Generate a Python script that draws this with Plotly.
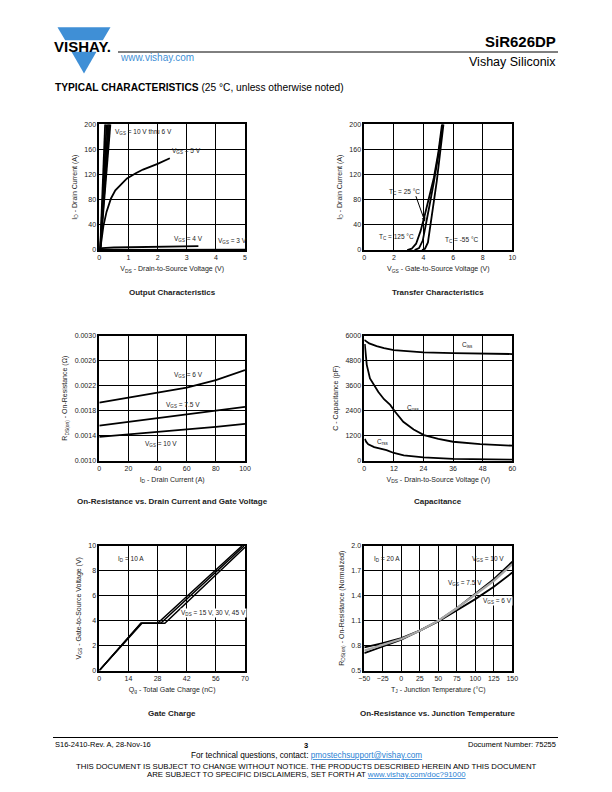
import plotly.graph_objects as go

# The page body adds an 8 px margin; lay the figure out in page pixels and compensate.
OFF = 8
W, H = 612 - 2 * OFF, 792 - 2 * OFF
def px(x): return (x - OFF) / W
def py(y): return 1 - (y - OFF) / H

FONT = "Liberation Sans, Arial, sans-serif"
TXT = "#222222"
BLUE = "#3f8fd6"

# ---------------- Data ----------------
# 1. Output characteristics
out_hi_start = [0.03, 0.03, 0.03, 0.03, 0.03]
out_hi_end = [0.20, 0.25, 0.30, 0.34, 0.38]
out_hi_id = [0, 200]
out_5v_vds = [0.03, 0.14, 0.25, 0.40, 0.55, 0.75, 0.95, 1.25, 1.50, 2.00, 2.42]
out_5v_id = [0, 38, 61, 82, 95, 105, 114, 122, 128, 137, 146]
out_4v_vds = [0.02, 0.10, 0.50, 1.00, 2.00, 3.40]
out_4v_id = [0, 3, 4, 4.5, 5.5, 6.2]
out_3v_vds = [0.02, 5.0]
out_3v_id = [0.3, 0.4]

# 2. Transfer characteristics
tr_125_vgs = [2.9, 3.2, 3.5, 3.8, 4.1, 4.4, 4.7, 5.0, 5.25]
tr_125_id = [0, 2, 10, 30, 57, 85, 115, 155, 200]
tr_25_vgs = [3.4, 3.7, 3.95, 4.15, 4.4, 4.7, 5.0, 5.3]
tr_25_id = [0, 3, 15, 38, 70, 108, 150, 200]
tr_m55_vgs = [3.9, 4.1, 4.3, 4.45, 4.65, 4.9, 5.1, 5.35]
tr_m55_id = [0, 2, 12, 35, 70, 110, 150, 200]

# 3. On-resistance vs drain current
ron_id = [0, 20, 40, 60, 80, 100]
ron_6v = [0.00193, 0.00201, 0.00208, 0.00217, 0.00229, 0.00245]
ron_75v = [0.00156, 0.00162, 0.00168, 0.00174, 0.00181, 0.00186]
ron_10v = [0.00138, 0.00142, 0.00145, 0.00149, 0.00154, 0.00159]

# 4. Capacitance
ciss_v = [0, 1, 2, 5, 8, 12, 18, 24, 36, 48, 60]
ciss_c = [5800, 5700, 5630, 5500, 5400, 5310, 5250, 5200, 5160, 5140, 5120]
coss_v = [0.2, 0.5, 1, 2.3, 5.7, 8, 10.5, 12.5, 15.8, 20, 24.2, 30, 36, 47, 60]
coss_c = [5600, 5000, 4600, 3950, 3300, 2950, 2680, 2350, 1870, 1500, 1230, 1050, 910, 800, 720]
crss_v = [0.2, 0.8, 1.6, 4, 9, 12, 16, 24, 36, 48, 60]
crss_c = [1050, 900, 790, 650, 510, 370, 260, 160, 85, 60, 50]

# 5. Gate charge
qg_15 = [0, 20, 28, 68.5]
vgs_15 = [0, 3.8, 3.8, 10]
qg_30 = [0, 20, 29.5, 69.5]
vgs_30 = [0, 3.8, 3.8, 10]
qg_45 = [0, 20.5, 31.5, 70]
vgs_45 = [0, 3.8, 3.8, 9.9]

# 6. On-resistance vs junction temperature
tj = [-50, -25, 0, 25, 50, 75, 100, 125, 150]
rn_6v = [0.78, 0.83, 0.89, 0.98, 1.09, 1.22, 1.36, 1.51, 1.68]
rn_75v = [0.74, 0.81, 0.88, 0.98, 1.10, 1.25, 1.41, 1.58, 1.78]
rn_10v = [0.71, 0.79, 0.87, 0.98, 1.10, 1.25, 1.42, 1.60, 1.81]

# ---------------- Figure ----------------
fig = go.Figure()
LW = 1.8

def line(x, y, ax, color="black", width=LW):
    xa = "x" if ax == 1 else f"x{ax}"
    ya = "y" if ax == 1 else f"y{ax}"
    fig.add_trace(go.Scatter(x=x, y=y, mode="lines", xaxis=xa, yaxis=ya,
                             line=dict(color=color, width=width), showlegend=False,
                             hoverinfo="skip"))

for s, e in zip(out_hi_start, out_hi_end):
    line([s, e], out_hi_id, 1)
line(out_5v_vds, out_5v_id, 1)
line(out_4v_vds, out_4v_id, 1)
line(out_3v_vds, out_3v_id, 1)

line(tr_125_vgs, tr_125_id, 2)
line(tr_25_vgs, tr_25_id, 2)
line(tr_m55_vgs, tr_m55_id, 2)

line(ron_id, ron_6v, 3)
line(ron_id, ron_75v, 3)
line(ron_id, ron_10v, 3)

line(ciss_v, ciss_c, 4)
line(coss_v, coss_c, 4)
line(crss_v, crss_c, 4)

line(qg_15, vgs_15, 5, width=1.5)
line(qg_30, vgs_30, 5, width=1.5)
line(qg_45, vgs_45, 5, width=1.5)

line(tj, rn_10v, 6)
line(tj, rn_6v, 6)
line(tj, rn_75v, 6, color="#a8a8a8", width=2.2)

LX = [px(99.3), px(245)]
RX = [px(364.3), px(512.3)]
ROWS = [[py(250), py(124.3)], [py(460.7), py(335.7)], [py(670.5), py(546)]]

axis_common = dict(showgrid=True, gridcolor="black", gridwidth=1.2,
                   showline=True, linecolor="black", linewidth=1.7, mirror=True,
                   ticks="", zeroline=False, automargin=False,
                   tickfont=dict(family=FONT, size=7, color=TXT),
                   title_font=dict(family=FONT, size=7, color=TXT))

specs = [
    (1, LX, ROWS[0], [0, 5], 1, None, [0, 200], 40, None,
     "V<sub>DS</sub> - Drain-to-Source Voltage (V)", "I<sub>D</sub> - Drain Current (A)"),
    (2, RX, ROWS[0], [0, 10], 2, None, [0, 200], 40, None,
     "V<sub>GS</sub> - Gate-to-Source Voltage (V)", "I<sub>D</sub> - Drain Current (A)"),
    (3, LX, ROWS[1], [0, 100], 20, None, [0.001, 0.003], 0.0004, ".4f",
     "I<sub>D</sub> - Drain Current (A)", "R<sub>DS(on)</sub> - On-Resistance (Ω)"),
    (4, RX, ROWS[1], [0, 60], 12, None, [0, 6000], 1200, None,
     "V<sub>DS</sub> - Drain-to-Source Voltage (V)", "C - Capacitance (pF)"),
    (5, LX, ROWS[2], [0, 70], 14, None, [0, 10], 2, None,
     "Q<sub>g</sub> - Total Gate Charge (nC)", "V<sub>GS</sub> - Gate-to-Source Voltage (V)"),
    (6, RX, ROWS[2], [-50, 150], 25, None, [0.5, 2.0], 0.3, ".1f",
     "T<sub>J</sub> - Junction Temperature (°C)", "R<sub>DS(on)</sub> - On-Resistance (Normalized)"),
]

layout_axes = {}
for (n, xd, yd, xr, xdt, xfmt, yr, ydt, yfmt, xt, yt) in specs:
    xk = "xaxis" if n == 1 else f"xaxis{n}"
    yk = "yaxis" if n == 1 else f"yaxis{n}"
    xa = dict(axis_common, domain=xd, range=xr, dtick=xdt, tick0=xr[0],
              anchor="y" if n == 1 else f"y{n}",
              title=dict(text=xt, standoff=6))
    ya = dict(axis_common, domain=yd, range=yr, dtick=ydt, tick0=yr[0],
              anchor="x" if n == 1 else f"x{n}",
              title=dict(text=yt, standoff=6))
    if yfmt:
        ya["tickformat"] = yfmt
    layout_axes[xk] = xa
    layout_axes[yk] = ya

fig.update_layout(**layout_axes)

ann = []
def note(text, x, y, ax, xanchor="left", size=6.5, bg=None):
    a = dict(text=text, x=x, y=y, xref="x" if ax == 1 else f"x{ax}",
             yref="y" if ax == 1 else f"y{ax}", showarrow=False,
             xanchor=xanchor, yanchor="middle",
             font=dict(family=FONT, size=size, color=TXT))
    if bg:
        a["bgcolor"] = bg
        a["borderpad"] = 0
    ann.append(a)

note("V<sub>GS</sub> = 10 V thru 6 V", 0.48, 188, 1)
note("V<sub>GS</sub> = 5 V", 2.42, 157, 1)
note("V<sub>GS</sub> = 4 V", 2.48, 17, 1)
note("V<sub>GS</sub> = 3 V", 4.0, 14, 1)

note("T<sub>C</sub> = 25 °C", 1.5, 93, 2)
note("T<sub>C</sub> = 125 °C", 0.84, 21, 2)
note("T<sub>C</sub> = -55 °C", 5.34, 16, 2)
ann.append(dict(x=4.1, y=45, ax=3.45, ay=88, xref="x2", yref="y2", axref="x2", ayref="y2",
                text="", showarrow=True, arrowhead=2, arrowsize=0.8, arrowwidth=1,
                arrowcolor="black"))

note("V<sub>GS</sub> = 6 V", 50, 0.00237, 3)
note("V<sub>GS</sub> = 7.5 V", 44.4, 0.00189, 3)
note("V<sub>GS</sub> = 10 V", 29.7, 0.00126, 3)

note("C<sub>iss</sub>", 38.8, 5555, 4)
note("C<sub>oss</sub>", 16.5, 2515, 4)
note("C<sub>rss</sub>", 4.3, 912, 4)

note("I<sub>D</sub> = 10 A", 8, 8.95, 5)
note("V<sub>DS</sub> = 15 V, 30 V, 45 V", 38.6, 4.6, 5, bg="white")

note("I<sub>D</sub> = 20 A", -40, 1.84, 6)
note("V<sub>GS</sub> = 10 V", 92.8, 1.84, 6)
note("V<sub>GS</sub> = 7.5 V", 61, 1.557, 6)
note("V<sub>GS</sub> = 6 V", 108.6, 1.336, 6, bg="white")

# chart titles
titles = [("Output Characteristics", LX, 292), ("Transfer Characteristics", RX, 292),
          ("On-Resistance vs. Drain Current and Gate Voltage", LX, 501), ("Capacitance", RX, 501),
          ("Gate Charge", LX, 713), ("On-Resistance vs. Junction Temperature", RX, 713)]
for t, dom, yy in titles:
    ann.append(dict(text=f"<b>{t}</b>", x=(dom[0] + dom[1]) / 2, y=py(yy), xref="paper", yref="paper",
                    showarrow=False, xanchor="center", yanchor="middle",
                    font=dict(family=FONT, size=8, color=TXT)))

def ptext(text, x, y, size, xanchor="left", color=TXT):
    ann.append(dict(text=text, x=px(x), y=py(y), xref="paper", yref="paper", showarrow=False,
                    xanchor=xanchor, yanchor="middle", font=dict(family=FONT, size=size, color=color)))

# header
ptext("<b>SiR626DP</b>", 558, 42, 15, "right", "black")
ptext("Vishay Siliconix", 558, 62, 12.5, "right", "black")
ptext("www.vishay.com", 118, 58, 10, "left", BLUE)
ptext("<b>TYPICAL CHARACTERISTICS</b> (25 °C, unless otherwise noted)", 53, 88, 10.2, "left", "black")
ptext("<b>VISHAY.</b>", 82.5, 46, 15, "center", "black")

# footer
ptext("S16-2410-Rev. A, 28-Nov-16", 53, 744, 7.5, "left", "black")
ptext("<b>3</b>", 306, 745, 7.5, "center", "black")
ptext("Document Number: 75255", 558, 744, 7.5, "right", "black")
ptext("For technical questions, contact: <span style='color:#2a7fd4'><u>pmostechsupport@vishay.com</u></span>",
      306, 755, 8.2, "center", "black")
ptext("THIS DOCUMENT IS SUBJECT TO CHANGE WITHOUT NOTICE. THE PRODUCTS DESCRIBED HEREIN AND THIS DOCUMENT",
      306, 766, 7.8, "center", "black")
ptext("ARE SUBJECT TO SPECIFIC DISCLAIMERS, SET FORTH AT <span style='color:#2a7fd4'><u>www.vishay.com/doc?91000</u></span>",
      306, 774.5, 7.8, "center", "black")

def path(points):
    return "M " + " L ".join(f"{px(a):.5f},{py(b):.5f}" for a, b in points) + " Z"

shapes = [
    dict(type="path", xref="paper", yref="paper",
         path=path([(57.5, 27.3), (110.5, 27.3), (102.8, 40.3), (65.2, 40.3)]),
         fillcolor=BLUE, line=dict(width=0)),
    dict(type="path", xref="paper", yref="paper",
         path=path([(71.5, 51.7), (96.5, 51.7), (84, 73.5)]),
         fillcolor=BLUE, line=dict(width=0)),
    dict(type="line", xref="paper", yref="paper", x0=px(118), x1=px(558), y0=py(52), y1=py(52),
         line=dict(color="black", width=1)),
    dict(type="line", xref="paper", yref="paper", x0=px(53), x1=px(558), y0=py(737.5), y1=py(737.5),
         line=dict(color="black", width=1)),
]

fig.update_layout(width=W, height=H, autosize=False,
                  margin=dict(l=0, r=0, t=0, b=0, pad=0, autoexpand=False),
                  paper_bgcolor="white", plot_bgcolor="white",
                  annotations=ann, shapes=shapes, showlegend=False,
                  font=dict(family=FONT, color=TXT))

fig.write_html("out.html")
